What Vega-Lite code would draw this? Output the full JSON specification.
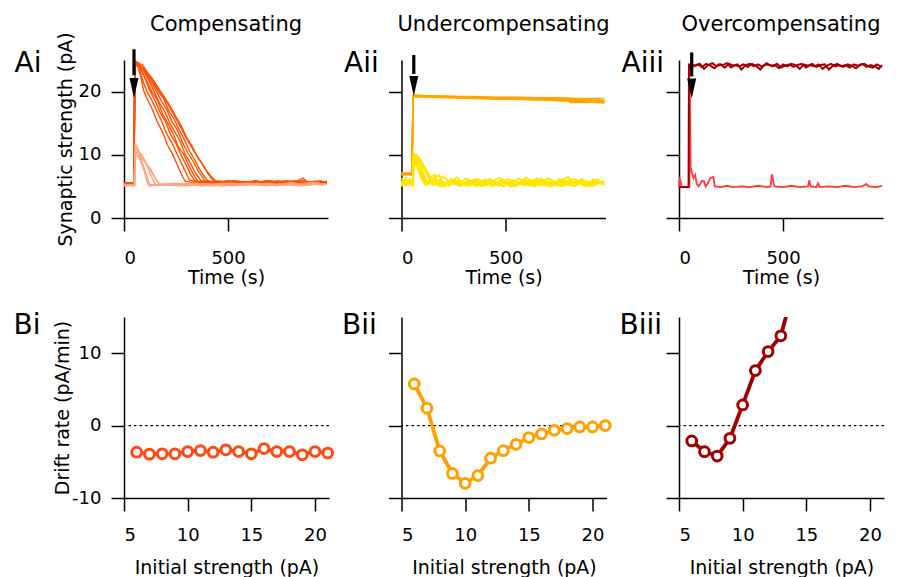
{
"$schema":"https://vega.github.io/schema/vega-lite/v6.json",
"background":"white",
"padding":{"left":13,"top":13,"right":5,"bottom":2},
"config":{"view":{"stroke":null},"font":"DejaVu Sans",
"axis":{"grid":false,"domainColor":"#000","domainWidth":1.5,"tickColor":"#000","tickWidth":1.5,"tickSize":13,"labelFont":"DejaVu Sans","labelFontSize":18,"labelColor":"#000","titleFont":"DejaVu Sans","titleFontSize":19,"titleFontWeight":"normal","titleColor":"#000","labelPadding":10},
"axisY":{"labelPadding":10,"titlePadding":3},
"title":{"font":"DejaVu Sans","fontWeight":"normal","color":"#000"}},
"datasets":{
"aiD":[
{"k":1,"t":0,"v":5.5},{"k":1,"t":48,"v":5.6},{"k":1,"t":52,"v":24.8},{"k":1,"t":65,"v":24.2},{"k":1,"t":80,"v":22.4},{"k":1,"t":95,"v":20.1},{"k":1,"t":115,"v":18.6},{"k":1,"t":135,"v":17.3},{"k":1,"t":160,"v":15.2},{"k":1,"t":185,"v":13.6},{"k":1,"t":210,"v":11.5},{"k":1,"t":235,"v":10.0},{"k":1,"t":260,"v":8.1},{"k":1,"t":280,"v":6.6},{"k":1,"t":295,"v":5.8},{"k":1,"t":340,"v":5.6},{"k":1,"t":400,"v":5.9},{"k":1,"t":470,"v":5.5},{"k":1,"t":540,"v":5.8},{"k":1,"t":610,"v":5.4},{"k":1,"t":680,"v":5.7},{"k":1,"t":750,"v":5.5},{"k":1,"t":820,"v":5.9},{"k":1,"t":890,"v":5.4},{"k":1,"t":960,"v":5.8},
{"k":2,"t":0,"v":5.6},{"k":2,"t":48,"v":5.5},{"k":2,"t":52,"v":24.6},{"k":2,"t":70,"v":23.9},{"k":2,"t":90,"v":21.8},{"k":2,"t":110,"v":20.0},{"k":2,"t":130,"v":18.9},{"k":2,"t":155,"v":17.1},{"k":2,"t":180,"v":15.4},{"k":2,"t":205,"v":13.3},{"k":2,"t":230,"v":11.9},{"k":2,"t":255,"v":10.1},{"k":2,"t":280,"v":8.4},{"k":2,"t":300,"v":7.0},{"k":2,"t":315,"v":6.0},{"k":2,"t":360,"v":5.7},{"k":2,"t":430,"v":5.5},{"k":2,"t":500,"v":5.9},{"k":2,"t":570,"v":5.5},{"k":2,"t":640,"v":5.8},{"k":2,"t":710,"v":5.4},{"k":2,"t":780,"v":5.7},{"k":2,"t":850,"v":5.5},{"k":2,"t":920,"v":5.8},{"k":2,"t":975,"v":5.6},
{"k":3,"t":0,"v":5.5},{"k":3,"t":48,"v":5.6},{"k":3,"t":52,"v":24.9},{"k":3,"t":70,"v":24.5},{"k":3,"t":95,"v":22.6},{"k":3,"t":125,"v":20.1},{"k":3,"t":150,"v":18.5},{"k":3,"t":175,"v":16.6},{"k":3,"t":200,"v":15.2},{"k":3,"t":225,"v":13.1},{"k":3,"t":250,"v":11.8},{"k":3,"t":275,"v":9.9},{"k":3,"t":300,"v":8.3},{"k":3,"t":320,"v":6.9},{"k":3,"t":340,"v":5.9},{"k":3,"t":390,"v":5.6},{"k":3,"t":460,"v":5.8},{"k":3,"t":530,"v":5.4},{"k":3,"t":600,"v":5.7},{"k":3,"t":670,"v":5.5},{"k":3,"t":740,"v":5.9},{"k":3,"t":810,"v":5.5},{"k":3,"t":860,"v":6.3},{"k":3,"t":880,"v":5.7},{"k":3,"t":950,"v":5.4},
{"k":4,"t":0,"v":5.6},{"k":4,"t":48,"v":5.5},{"k":4,"t":52,"v":24.3},{"k":4,"t":75,"v":23.8},{"k":4,"t":105,"v":22.0},{"k":4,"t":135,"v":19.9},{"k":4,"t":160,"v":18.7},{"k":4,"t":185,"v":16.5},{"k":4,"t":210,"v":15.0},{"k":4,"t":235,"v":13.4},{"k":4,"t":260,"v":11.3},{"k":4,"t":285,"v":10.2},{"k":4,"t":310,"v":8.4},{"k":4,"t":335,"v":6.8},{"k":4,"t":355,"v":5.8},{"k":4,"t":410,"v":5.7},{"k":4,"t":480,"v":5.5},{"k":4,"t":550,"v":5.8},{"k":4,"t":620,"v":5.6},{"k":4,"t":690,"v":5.9},{"k":4,"t":760,"v":5.4},{"k":4,"t":830,"v":5.7},{"k":4,"t":900,"v":5.5},{"k":4,"t":975,"v":5.8},
{"k":5,"t":0,"v":5.5},{"k":5,"t":48,"v":5.6},{"k":5,"t":52,"v":24.7},{"k":5,"t":80,"v":24.1},{"k":5,"t":110,"v":22.4},{"k":5,"t":145,"v":20.0},{"k":5,"t":170,"v":18.2},{"k":5,"t":195,"v":16.9},{"k":5,"t":220,"v":15.0},{"k":5,"t":245,"v":13.6},{"k":5,"t":270,"v":12.1},{"k":5,"t":295,"v":10.0},{"k":5,"t":320,"v":8.6},{"k":5,"t":345,"v":7.0},{"k":5,"t":370,"v":5.9},{"k":5,"t":420,"v":5.6},{"k":5,"t":490,"v":5.8},{"k":5,"t":560,"v":5.5},{"k":5,"t":630,"v":5.9},{"k":5,"t":700,"v":5.5},{"k":5,"t":770,"v":5.7},{"k":5,"t":840,"v":5.4},{"k":5,"t":910,"v":5.8},{"k":5,"t":970,"v":5.5},
{"k":6,"t":0,"v":5.6},{"k":6,"t":48,"v":5.5},{"k":6,"t":52,"v":24.5},{"k":6,"t":85,"v":23.9},{"k":6,"t":120,"v":22.1},{"k":6,"t":155,"v":20.1},{"k":6,"t":180,"v":18.5},{"k":6,"t":205,"v":17.2},{"k":6,"t":230,"v":15.3},{"k":6,"t":255,"v":14.0},{"k":6,"t":280,"v":12.0},{"k":6,"t":305,"v":10.4},{"k":6,"t":330,"v":9.1},{"k":6,"t":355,"v":7.5},{"k":6,"t":375,"v":6.6},{"k":6,"t":390,"v":5.8},{"k":6,"t":440,"v":5.6},{"k":6,"t":510,"v":5.5},{"k":6,"t":580,"v":5.8},{"k":6,"t":650,"v":5.4},{"k":6,"t":720,"v":5.7},{"k":6,"t":790,"v":5.6},{"k":6,"t":860,"v":5.9},{"k":6,"t":930,"v":5.5},
{"k":7,"t":0,"v":5.5},{"k":7,"t":48,"v":5.6},{"k":7,"t":52,"v":24.8},{"k":7,"t":90,"v":24.2},{"k":7,"t":130,"v":22.0},{"k":7,"t":165,"v":20.0},{"k":7,"t":190,"v":18.9},{"k":7,"t":215,"v":17.0},{"k":7,"t":240,"v":15.7},{"k":7,"t":265,"v":13.9},{"k":7,"t":290,"v":12.4},{"k":7,"t":315,"v":10.6},{"k":7,"t":340,"v":9.2},{"k":7,"t":365,"v":7.6},{"k":7,"t":390,"v":6.4},{"k":7,"t":405,"v":5.8},{"k":7,"t":460,"v":5.6},{"k":7,"t":530,"v":5.9},{"k":7,"t":600,"v":5.5},{"k":7,"t":670,"v":5.7},{"k":7,"t":740,"v":5.4},{"k":7,"t":810,"v":5.8},{"k":7,"t":880,"v":5.6},{"k":7,"t":950,"v":5.9},
{"k":8,"t":0,"v":5.6},{"k":8,"t":48,"v":5.5},{"k":8,"t":52,"v":24.4},{"k":8,"t":95,"v":23.7},{"k":8,"t":140,"v":21.9},{"k":8,"t":176,"v":20.0},{"k":8,"t":200,"v":18.8},{"k":8,"t":225,"v":17.5},{"k":8,"t":250,"v":16.0},{"k":8,"t":275,"v":14.6},{"k":8,"t":300,"v":12.8},{"k":8,"t":325,"v":11.5},{"k":8,"t":350,"v":9.8},{"k":8,"t":375,"v":8.6},{"k":8,"t":400,"v":7.2},{"k":8,"t":420,"v":6.3},{"k":8,"t":435,"v":5.8},{"k":8,"t":490,"v":5.5},{"k":8,"t":560,"v":5.8},{"k":8,"t":630,"v":5.6},{"k":8,"t":700,"v":5.9},{"k":8,"t":770,"v":5.5},{"k":8,"t":840,"v":5.7},{"k":8,"t":910,"v":5.4},{"k":8,"t":975,"v":5.7},
{"k":9,"t":0,"v":5.5},{"k":9,"t":48,"v":5.6},{"k":9,"t":52,"v":24.6},{"k":9,"t":80,"v":24.0},{"k":9,"t":120,"v":22.5},{"k":9,"t":160,"v":20.6},{"k":9,"t":185,"v":19.4},{"k":9,"t":210,"v":18.1},{"k":9,"t":240,"v":16.3},{"k":9,"t":270,"v":14.5},{"k":9,"t":300,"v":12.6},{"k":9,"t":330,"v":10.9},{"k":9,"t":360,"v":9.4},{"k":9,"t":390,"v":7.8},{"k":9,"t":415,"v":6.7},{"k":9,"t":440,"v":5.9},{"k":9,"t":500,"v":5.7},{"k":9,"t":570,"v":5.5},{"k":9,"t":640,"v":5.8},{"k":9,"t":710,"v":5.5},{"k":9,"t":780,"v":5.9},{"k":9,"t":850,"v":5.6},{"k":9,"t":920,"v":5.8},{"k":9,"t":975,"v":5.5}
],
"aiL":[
{"k":1,"t":0,"v":5.2},{"k":1,"t":50,"v":5.2},{"k":1,"t":53,"v":11.7},{"k":1,"t":60,"v":11.5},{"k":1,"t":75,"v":10.2},{"k":1,"t":90,"v":8.6},{"k":1,"t":105,"v":7.0},{"k":1,"t":118,"v":5.6},{"k":1,"t":125,"v":5.1},{"k":1,"t":190,"v":5.3},{"k":1,"t":260,"v":5.1},{"k":1,"t":330,"v":5.4},{"k":1,"t":400,"v":5.2},{"k":1,"t":470,"v":5.5},{"k":1,"t":540,"v":5.2},{"k":1,"t":610,"v":5.4},{"k":1,"t":680,"v":5.1},{"k":1,"t":750,"v":5.4},{"k":1,"t":820,"v":5.2},{"k":1,"t":890,"v":5.5},{"k":1,"t":960,"v":5.2},
{"k":2,"t":0,"v":5.1},{"k":2,"t":50,"v":5.3},{"k":2,"t":53,"v":10.6},{"k":2,"t":65,"v":10.9},{"k":2,"t":85,"v":9.6},{"k":2,"t":105,"v":8.7},{"k":2,"t":125,"v":7.1},{"k":2,"t":140,"v":6.0},{"k":2,"t":152,"v":5.2},{"k":2,"t":220,"v":5.4},{"k":2,"t":290,"v":5.1},{"k":2,"t":360,"v":5.3},{"k":2,"t":430,"v":5.1},{"k":2,"t":500,"v":5.4},{"k":2,"t":570,"v":5.2},{"k":2,"t":640,"v":5.5},{"k":2,"t":710,"v":5.2},{"k":2,"t":780,"v":5.3},{"k":2,"t":850,"v":5.1},{"k":2,"t":920,"v":5.4},{"k":2,"t":975,"v":5.3},
{"k":3,"t":0,"v":5.3},{"k":3,"t":50,"v":5.2},{"k":3,"t":53,"v":10.0},{"k":3,"t":62,"v":10.3},{"k":3,"t":80,"v":9.0},{"k":3,"t":98,"v":7.5},{"k":3,"t":112,"v":6.2},{"k":3,"t":122,"v":5.3},{"k":3,"t":180,"v":5.2},{"k":3,"t":250,"v":5.5},{"k":3,"t":320,"v":5.2},{"k":3,"t":390,"v":5.4},{"k":3,"t":460,"v":5.1},{"k":3,"t":530,"v":5.3},{"k":3,"t":600,"v":5.5},{"k":3,"t":670,"v":5.2},{"k":3,"t":740,"v":5.3},{"k":3,"t":810,"v":5.6},{"k":3,"t":880,"v":5.2},{"k":3,"t":950,"v":5.4},
{"k":4,"t":0,"v":5.2},{"k":4,"t":50,"v":5.1},{"k":4,"t":53,"v":9.6},{"k":4,"t":70,"v":9.9},{"k":4,"t":95,"v":9.2},{"k":4,"t":120,"v":8.0},{"k":4,"t":145,"v":6.6},{"k":4,"t":165,"v":5.6},{"k":4,"t":176,"v":5.2},{"k":4,"t":240,"v":5.3},{"k":4,"t":310,"v":5.5},{"k":4,"t":380,"v":5.2},{"k":4,"t":450,"v":5.4},{"k":4,"t":520,"v":5.1},{"k":4,"t":590,"v":5.3},{"k":4,"t":660,"v":5.4},{"k":4,"t":730,"v":5.1},{"k":4,"t":800,"v":5.5},{"k":4,"t":870,"v":5.3},{"k":4,"t":940,"v":5.6},
{"k":5,"t":0,"v":5.2},{"k":5,"t":50,"v":5.3},{"k":5,"t":53,"v":11.0},{"k":5,"t":64,"v":11.2},{"k":5,"t":78,"v":9.8},{"k":5,"t":92,"v":8.1},{"k":5,"t":104,"v":6.6},{"k":5,"t":114,"v":5.5},{"k":5,"t":120,"v":5.1},{"k":5,"t":200,"v":5.4},{"k":5,"t":270,"v":5.2},{"k":5,"t":340,"v":5.5},{"k":5,"t":410,"v":5.3},{"k":5,"t":480,"v":5.1},{"k":5,"t":550,"v":5.4},{"k":5,"t":620,"v":5.2},{"k":5,"t":690,"v":5.5},{"k":5,"t":760,"v":5.2},{"k":5,"t":830,"v":5.4},{"k":5,"t":900,"v":5.6},{"k":5,"t":975,"v":5.3},
{"k":6,"t":0,"v":5.1},{"k":6,"t":50,"v":5.2},{"k":6,"t":53,"v":10.3},{"k":6,"t":68,"v":10.5},{"k":6,"t":88,"v":9.9},{"k":6,"t":110,"v":8.4},{"k":6,"t":130,"v":7.6},{"k":6,"t":150,"v":6.3},{"k":6,"t":168,"v":5.4},{"k":6,"t":230,"v":5.2},{"k":6,"t":300,"v":5.4},{"k":6,"t":370,"v":5.1},{"k":6,"t":440,"v":5.3},{"k":6,"t":510,"v":5.5},{"k":6,"t":580,"v":5.2},{"k":6,"t":650,"v":5.4},{"k":6,"t":720,"v":5.2},{"k":6,"t":790,"v":5.5},{"k":6,"t":860,"v":5.3},{"k":6,"t":930,"v":5.5}
],
"aiiO":[
{"k":1,"t":0,"v":7.0},{"k":1,"t":50,"v":7.1},{"k":1,"t":56,"v":19.4},{"k":1,"t":150,"v":19.3},{"k":1,"t":250,"v":19.2},{"k":1,"t":350,"v":19.2},{"k":1,"t":450,"v":19.1},{"k":1,"t":550,"v":19.1},{"k":1,"t":650,"v":19.0},{"k":1,"t":750,"v":19.0},{"k":1,"t":850,"v":18.9},{"k":1,"t":975,"v":18.9},
{"k":2,"t":0,"v":6.8},{"k":2,"t":50,"v":6.9},{"k":2,"t":56,"v":19.3},{"k":2,"t":150,"v":19.2},{"k":2,"t":250,"v":19.1},{"k":2,"t":350,"v":19.0},{"k":2,"t":450,"v":19.0},{"k":2,"t":550,"v":18.9},{"k":2,"t":650,"v":18.8},{"k":2,"t":750,"v":18.8},{"k":2,"t":850,"v":18.7},{"k":2,"t":975,"v":18.6},
{"k":3,"t":0,"v":7.2},{"k":3,"t":50,"v":7.0},{"k":3,"t":56,"v":19.2},{"k":3,"t":150,"v":19.1},{"k":3,"t":250,"v":19.0},{"k":3,"t":350,"v":18.9},{"k":3,"t":450,"v":18.8},{"k":3,"t":550,"v":18.8},{"k":3,"t":650,"v":18.7},{"k":3,"t":750,"v":18.6},{"k":3,"t":850,"v":18.5},{"k":3,"t":975,"v":18.4},
{"k":4,"t":0,"v":6.9},{"k":4,"t":50,"v":7.2},{"k":4,"t":56,"v":19.4},{"k":4,"t":150,"v":19.2},{"k":4,"t":250,"v":19.1},{"k":4,"t":350,"v":19.1},{"k":4,"t":450,"v":19.0},{"k":4,"t":550,"v":18.9},{"k":4,"t":650,"v":18.9},{"k":4,"t":750,"v":18.8},{"k":4,"t":800,"v":18.7},{"k":4,"t":810,"v":18.3},{"k":4,"t":900,"v":18.3},{"k":4,"t":910,"v":18.7},{"k":4,"t":975,"v":18.6},
{"k":5,"t":0,"v":7.1},{"k":5,"t":50,"v":6.8},{"k":5,"t":56,"v":19.3},{"k":5,"t":150,"v":19.2},{"k":5,"t":250,"v":19.2},{"k":5,"t":350,"v":19.1},{"k":5,"t":450,"v":19.0},{"k":5,"t":550,"v":19.0},{"k":5,"t":650,"v":18.9},{"k":5,"t":750,"v":18.8},{"k":5,"t":850,"v":18.7},{"k":5,"t":975,"v":18.3},
{"k":6,"t":0,"v":7.0},{"k":6,"t":50,"v":7.0},{"k":6,"t":56,"v":19.4},{"k":6,"t":150,"v":19.3},{"k":6,"t":250,"v":19.2},{"k":6,"t":350,"v":19.0},{"k":6,"t":450,"v":18.9},{"k":6,"t":550,"v":18.8},{"k":6,"t":650,"v":18.7},{"k":6,"t":750,"v":18.6},{"k":6,"t":850,"v":18.5},{"k":6,"t":975,"v":18.2}
],
"aiiY":[
{"k":1,"t":0,"v":5.3},{"k":1,"t":20,"v":6.0},{"k":1,"t":40,"v":5.4},{"k":1,"t":55,"v":5.6},{"k":1,"t":58,"v":10.2},{"k":1,"t":70,"v":9.9},{"k":1,"t":90,"v":8.3},{"k":1,"t":110,"v":6.6},{"k":1,"t":125,"v":5.4},{"k":1,"t":160,"v":5.9},{"k":1,"t":200,"v":5.1},{"k":1,"t":240,"v":6.2},{"k":1,"t":280,"v":5.3},{"k":1,"t":320,"v":5.8},{"k":1,"t":360,"v":5.0},{"k":1,"t":400,"v":6.1},{"k":1,"t":440,"v":5.4},{"k":1,"t":480,"v":5.9},{"k":1,"t":520,"v":5.1},{"k":1,"t":560,"v":6.3},{"k":1,"t":600,"v":5.5},{"k":1,"t":640,"v":5.0},{"k":1,"t":680,"v":6.0},{"k":1,"t":720,"v":5.3},{"k":1,"t":760,"v":6.2},{"k":1,"t":800,"v":5.2},{"k":1,"t":840,"v":5.8},{"k":1,"t":880,"v":5.0},{"k":1,"t":920,"v":6.1},{"k":1,"t":960,"v":5.4},
{"k":2,"t":0,"v":5.8},{"k":2,"t":20,"v":5.1},{"k":2,"t":40,"v":6.2},{"k":2,"t":55,"v":5.5},{"k":2,"t":58,"v":9.4},{"k":2,"t":75,"v":9.6},{"k":2,"t":95,"v":8.8},{"k":2,"t":115,"v":7.4},{"k":2,"t":135,"v":6.0},{"k":2,"t":150,"v":5.2},{"k":2,"t":185,"v":6.0},{"k":2,"t":225,"v":5.3},{"k":2,"t":265,"v":6.4},{"k":2,"t":305,"v":5.2},{"k":2,"t":345,"v":5.9},{"k":2,"t":385,"v":5.4},{"k":2,"t":425,"v":6.2},{"k":2,"t":465,"v":5.1},{"k":2,"t":505,"v":5.7},{"k":2,"t":545,"v":5.0},{"k":2,"t":585,"v":6.1},{"k":2,"t":625,"v":5.6},{"k":2,"t":665,"v":5.2},{"k":2,"t":705,"v":6.3},{"k":2,"t":745,"v":5.4},{"k":2,"t":785,"v":5.9},{"k":2,"t":825,"v":5.1},{"k":2,"t":865,"v":6.2},{"k":2,"t":905,"v":5.3},{"k":2,"t":945,"v":5.8},{"k":2,"t":975,"v":5.2},
{"k":3,"t":0,"v":5.0},{"k":3,"t":20,"v":5.7},{"k":3,"t":40,"v":5.2},{"k":3,"t":55,"v":5.9},{"k":3,"t":58,"v":8.8},{"k":3,"t":68,"v":9.1},{"k":3,"t":85,"v":8.0},{"k":3,"t":100,"v":6.5},{"k":3,"t":115,"v":5.2},{"k":3,"t":150,"v":5.6},{"k":3,"t":190,"v":5.0},{"k":3,"t":230,"v":5.8},{"k":3,"t":270,"v":5.2},{"k":3,"t":310,"v":6.3},{"k":3,"t":350,"v":5.4},{"k":3,"t":390,"v":5.0},{"k":3,"t":430,"v":5.7},{"k":3,"t":470,"v":6.4},{"k":3,"t":510,"v":5.3},{"k":3,"t":550,"v":5.8},{"k":3,"t":590,"v":5.1},{"k":3,"t":630,"v":6.0},{"k":3,"t":670,"v":5.5},{"k":3,"t":710,"v":5.0},{"k":3,"t":750,"v":5.9},{"k":3,"t":790,"v":5.4},{"k":3,"t":830,"v":6.2},{"k":3,"t":870,"v":5.3},{"k":3,"t":910,"v":5.0},{"k":3,"t":950,"v":5.9},
{"k":4,"t":0,"v":6.3},{"k":4,"t":20,"v":5.5},{"k":4,"t":40,"v":5.9},{"k":4,"t":55,"v":5.3},{"k":4,"t":58,"v":9.8},{"k":4,"t":72,"v":10.0},{"k":4,"t":92,"v":9.2},{"k":4,"t":112,"v":8.0},{"k":4,"t":130,"v":7.0},{"k":4,"t":145,"v":5.8},{"k":4,"t":160,"v":5.3},{"k":4,"t":200,"v":6.6},{"k":4,"t":240,"v":5.4},{"k":4,"t":280,"v":5.9},{"k":4,"t":320,"v":5.1},{"k":4,"t":360,"v":6.2},{"k":4,"t":400,"v":5.6},{"k":4,"t":440,"v":5.0},{"k":4,"t":480,"v":6.0},{"k":4,"t":520,"v":5.5},{"k":4,"t":560,"v":5.2},{"k":4,"t":600,"v":6.4},{"k":4,"t":640,"v":5.3},{"k":4,"t":680,"v":5.7},{"k":4,"t":720,"v":5.0},{"k":4,"t":760,"v":5.8},{"k":4,"t":800,"v":6.5},{"k":4,"t":840,"v":5.2},{"k":4,"t":880,"v":5.7},{"k":4,"t":920,"v":5.1},{"k":4,"t":975,"v":5.9},
{"k":5,"t":0,"v":5.5},{"k":5,"t":20,"v":5.2},{"k":5,"t":40,"v":5.8},{"k":5,"t":55,"v":5.1},{"k":5,"t":58,"v":9.0},{"k":5,"t":70,"v":9.3},{"k":5,"t":90,"v":7.9},{"k":5,"t":108,"v":6.3},{"k":5,"t":120,"v":5.5},{"k":5,"t":165,"v":6.1},{"k":5,"t":205,"v":5.2},{"k":5,"t":245,"v":5.7},{"k":5,"t":285,"v":5.0},{"k":5,"t":325,"v":6.0},{"k":5,"t":365,"v":5.3},{"k":5,"t":405,"v":5.8},{"k":5,"t":445,"v":5.2},{"k":5,"t":485,"v":6.2},{"k":5,"t":525,"v":5.0},{"k":5,"t":565,"v":5.6},{"k":5,"t":605,"v":5.3},{"k":5,"t":645,"v":6.1},{"k":5,"t":685,"v":5.1},{"k":5,"t":725,"v":5.6},{"k":5,"t":765,"v":5.2},{"k":5,"t":805,"v":6.0},{"k":5,"t":845,"v":5.4},{"k":5,"t":885,"v":5.9},{"k":5,"t":925,"v":5.2},{"k":5,"t":965,"v":5.7},
{"k":6,"t":0,"v":5.1},{"k":6,"t":20,"v":6.4},{"k":6,"t":40,"v":5.6},{"k":6,"t":55,"v":5.4},{"k":6,"t":58,"v":8.5},{"k":6,"t":66,"v":8.7},{"k":6,"t":80,"v":7.6},{"k":6,"t":96,"v":6.2},{"k":6,"t":110,"v":5.5},{"k":6,"t":140,"v":6.0},{"k":6,"t":180,"v":6.8},{"k":6,"t":200,"v":5.6},{"k":6,"t":230,"v":5.1},{"k":6,"t":270,"v":5.9},{"k":6,"t":310,"v":5.4},{"k":6,"t":350,"v":6.1},{"k":6,"t":390,"v":5.2},{"k":6,"t":430,"v":5.9},{"k":6,"t":470,"v":5.4},{"k":6,"t":510,"v":6.2},{"k":6,"t":550,"v":5.1},{"k":6,"t":590,"v":5.7},{"k":6,"t":630,"v":5.3},{"k":6,"t":670,"v":6.2},{"k":6,"t":710,"v":5.7},{"k":6,"t":750,"v":5.1},{"k":6,"t":790,"v":5.6},{"k":6,"t":830,"v":5.0},{"k":6,"t":870,"v":6.0},{"k":6,"t":910,"v":5.5},{"k":6,"t":950,"v":6.2},
{"k":7,"t":0,"v":5.9},{"k":7,"t":20,"v":5.4},{"k":7,"t":40,"v":6.1},{"k":7,"t":55,"v":5.7},{"k":7,"t":58,"v":9.6},{"k":7,"t":74,"v":9.8},{"k":7,"t":96,"v":8.4},{"k":7,"t":120,"v":7.1},{"k":7,"t":140,"v":6.5},{"k":7,"t":160,"v":6.8},{"k":7,"t":175,"v":5.6},{"k":7,"t":210,"v":5.0},{"k":7,"t":250,"v":6.0},{"k":7,"t":290,"v":5.6},{"k":7,"t":330,"v":5.1},{"k":7,"t":370,"v":6.1},{"k":7,"t":410,"v":5.2},{"k":7,"t":450,"v":5.7},{"k":7,"t":490,"v":5.0},{"k":7,"t":530,"v":6.0},{"k":7,"t":570,"v":5.5},{"k":7,"t":610,"v":5.1},{"k":7,"t":650,"v":6.3},{"k":7,"t":690,"v":5.4},{"k":7,"t":730,"v":5.8},{"k":7,"t":770,"v":5.0},{"k":7,"t":810,"v":5.6},{"k":7,"t":850,"v":5.9},{"k":7,"t":890,"v":5.2},{"k":7,"t":930,"v":6.0},{"k":7,"t":975,"v":5.5}
],
"aiiiD":[
{"k":1,"t":0,"v":4.9},{"k":1,"t":46,"v":4.9},{"k":1,"t":48,"v":24.3},{"k":1,"t":60,"v":24.3},{"k":1,"t":80,"v":24.1},{"k":1,"t":100,"v":24.4},{"k":1,"t":120,"v":23.6},{"k":1,"t":140,"v":24.2},{"k":1,"t":160,"v":24.5},{"k":1,"t":180,"v":24.0},{"k":1,"t":200,"v":24.3},{"k":1,"t":220,"v":23.8},{"k":1,"t":240,"v":24.4},{"k":1,"t":260,"v":24.1},{"k":1,"t":280,"v":24.3},{"k":1,"t":300,"v":23.5},{"k":1,"t":320,"v":24.2},{"k":1,"t":340,"v":24.4},{"k":1,"t":360,"v":24.0},{"k":1,"t":380,"v":24.3},{"k":1,"t":400,"v":23.9},{"k":1,"t":420,"v":24.5},{"k":1,"t":440,"v":24.1},{"k":1,"t":460,"v":24.2},{"k":1,"t":480,"v":23.7},{"k":1,"t":500,"v":24.3},{"k":1,"t":520,"v":24.0},{"k":1,"t":540,"v":24.4},{"k":1,"t":560,"v":24.2},{"k":1,"t":580,"v":23.6},{"k":1,"t":600,"v":24.3},{"k":1,"t":620,"v":24.1},{"k":1,"t":640,"v":24.4},{"k":1,"t":660,"v":23.9},{"k":1,"t":680,"v":24.2},{"k":1,"t":700,"v":24.3},{"k":1,"t":720,"v":23.5},{"k":1,"t":740,"v":24.1},{"k":1,"t":760,"v":24.4},{"k":1,"t":780,"v":24.0},{"k":1,"t":800,"v":24.2},{"k":1,"t":820,"v":23.8},{"k":1,"t":840,"v":24.3},{"k":1,"t":860,"v":24.1},{"k":1,"t":880,"v":24.4},{"k":1,"t":900,"v":23.9},{"k":1,"t":920,"v":24.2},{"k":1,"t":940,"v":24.0},{"k":1,"t":960,"v":23.6},{"k":1,"t":975,"v":24.2},
{"k":2,"t":48,"v":24.1},{"k":2,"t":70,"v":24.0},{"k":2,"t":90,"v":24.3},{"k":2,"t":110,"v":23.9},{"k":2,"t":130,"v":24.4},{"k":2,"t":150,"v":24.1},{"k":2,"t":170,"v":23.7},{"k":2,"t":190,"v":24.3},{"k":2,"t":210,"v":24.2},{"k":2,"t":230,"v":24.5},{"k":2,"t":250,"v":23.8},{"k":2,"t":270,"v":24.2},{"k":2,"t":290,"v":24.0},{"k":2,"t":310,"v":24.3},{"k":2,"t":330,"v":23.9},{"k":2,"t":350,"v":24.4},{"k":2,"t":370,"v":24.1},{"k":2,"t":390,"v":23.5},{"k":2,"t":410,"v":24.2},{"k":2,"t":430,"v":24.3},{"k":2,"t":450,"v":24.0},{"k":2,"t":470,"v":24.4},{"k":2,"t":490,"v":23.8},{"k":2,"t":510,"v":24.1},{"k":2,"t":530,"v":24.3},{"k":2,"t":550,"v":23.9},{"k":2,"t":570,"v":24.2},{"k":2,"t":590,"v":24.4},{"k":2,"t":610,"v":23.8},{"k":2,"t":630,"v":24.2},{"k":2,"t":650,"v":24.0},{"k":2,"t":670,"v":24.3},{"k":2,"t":690,"v":23.6},{"k":2,"t":710,"v":24.1},{"k":2,"t":730,"v":24.4},{"k":2,"t":750,"v":24.0},{"k":2,"t":770,"v":24.2},{"k":2,"t":790,"v":23.9},{"k":2,"t":810,"v":24.3},{"k":2,"t":830,"v":24.1},{"k":2,"t":850,"v":23.7},{"k":2,"t":870,"v":24.2},{"k":2,"t":890,"v":24.4},{"k":2,"t":910,"v":24.0},{"k":2,"t":930,"v":23.8},{"k":2,"t":950,"v":24.3},{"k":2,"t":975,"v":23.9}
],
"aiiiR":[
{"k":1,"t":0,"v":4.9},{"k":1,"t":3,"v":6.2},{"k":1,"t":8,"v":5.9},{"k":1,"t":12,"v":4.9},{"k":1,"t":50,"v":4.9},{"k":1,"t":52,"v":20.0},{"k":1,"t":56,"v":8.0},{"k":1,"t":62,"v":7.2},{"k":1,"t":70,"v":6.3},{"k":1,"t":78,"v":6.8},{"k":1,"t":85,"v":5.4},{"k":1,"t":95,"v":5.0},{"k":1,"t":110,"v":5.9},{"k":1,"t":120,"v":5.8},{"k":1,"t":128,"v":5.0},{"k":1,"t":140,"v":5.6},{"k":1,"t":150,"v":6.3},{"k":1,"t":165,"v":6.5},{"k":1,"t":172,"v":5.0},{"k":1,"t":200,"v":4.9},{"k":1,"t":230,"v":5.1},{"k":1,"t":260,"v":4.9},{"k":1,"t":300,"v":5.0},{"k":1,"t":340,"v":4.9},{"k":1,"t":380,"v":5.1},{"k":1,"t":420,"v":4.9},{"k":1,"t":440,"v":5.0},{"k":1,"t":446,"v":6.9},{"k":1,"t":452,"v":6.0},{"k":1,"t":458,"v":5.0},{"k":1,"t":500,"v":4.9},{"k":1,"t":540,"v":5.1},{"k":1,"t":580,"v":4.9},{"k":1,"t":620,"v":5.0},{"k":1,"t":626,"v":6.0},{"k":1,"t":632,"v":5.0},{"k":1,"t":660,"v":4.9},{"k":1,"t":668,"v":5.5},{"k":1,"t":675,"v":4.9},{"k":1,"t":720,"v":5.0},{"k":1,"t":760,"v":4.9},{"k":1,"t":800,"v":5.1},{"k":1,"t":840,"v":4.9},{"k":1,"t":880,"v":5.0},{"k":1,"t":900,"v":5.4},{"k":1,"t":910,"v":5.0},{"k":1,"t":950,"v":4.9},{"k":1,"t":975,"v":5.1}
],
"bi":[{"x":6,"y":-3.67},{"x":7,"y":-3.94},{"x":8,"y":-3.9},{"x":9,"y":-3.9},{"x":10,"y":-3.58},{"x":11,"y":-3.44},{"x":12,"y":-3.67},{"x":13,"y":-3.35},{"x":14,"y":-3.58},{"x":15,"y":-3.9},{"x":16,"y":-3.17},{"x":17,"y":-3.58},{"x":18,"y":-3.58},{"x":19,"y":-4.04},{"x":20,"y":-3.58},{"x":21,"y":-3.8}],
"bii":[{"x":6,"y":5.76},{"x":7,"y":2.4},{"x":8,"y":-3.5},{"x":9,"y":-6.6},{"x":10,"y":-7.97},{"x":11,"y":-6.9},{"x":12,"y":-4.5},{"x":13,"y":-3.46},{"x":14,"y":-2.58},{"x":15,"y":-1.66},{"x":16,"y":-1.15},{"x":17,"y":-0.65},{"x":18,"y":-0.41},{"x":19,"y":-0.18},{"x":20,"y":-0.18},{"x":21,"y":0}],
"biii":[{"x":6,"y":-2.12},{"x":7,"y":-3.6},{"x":8,"y":-4.2},{"x":9,"y":-1.75},{"x":10,"y":2.86},{"x":11,"y":7.6},{"x":12,"y":10.23},{"x":13,"y":12.4},{"x":14,"y":19.0}]
},
"columns":3,
"spacing":{"row":99,"column":72.5},
"bounds":"flush",
"concat":[
 {"width":204,"height":158,
  "title":{"text":"Compensating","anchor":"middle","frame":"group","fontSize":21,"offset":-20,"baseline":"alphabetic"},
  "resolve":{"axis":{"x":"independent"}},
  "layer":[
   {"data":{"name":"aiD"},"mark":{"type":"line","color":"#FF5000","strokeWidth":1.4},
    "encoding":{"x":{"field":"t","type":"quantitative","scale":{"domain":[0,980],"nice":false},"axis":{"values":[0,500],"title":"Time (s)","labelPadding":18,"titlePadding":1}},
     "y":{"field":"v","type":"quantitative","scale":{"domain":[0,25],"nice":false},"axis":{"values":[0,10,20],"title":"Synaptic strength (pA)"}},
     "detail":{"field":"k"}}},
   {"data":{"name":"aiL"},"mark":{"type":"line","color":"#FFA47C","strokeWidth":1.4},
    "encoding":{"x":{"field":"t","type":"quantitative","axis":null},"y":{"field":"v","type":"quantitative"},"detail":{"field":"k"}}},
   {"data":{"values":[{"t":48,"top":26.7,"base":22.6,"tip":19.0}]},"mark":{"type":"rule","color":"#000","strokeWidth":3.2},
    "encoding":{"x":{"field":"t","type":"quantitative","axis":{"orient":"top","domain":false,"ticks":false,"labels":false,"title":"Ai","titleFontSize":28,"titleX":-110,"titleY":11,"titleAlign":"left","titleBaseline":"alphabetic","titleAngle":0}},"y":{"field":"top","type":"quantitative"},"y2":{"field":"base"}}},
   {"data":{"values":[{"t":48,"top":26.7,"base":22.6,"tip":19.0}]},"mark":{"type":"point","shape":"M -0.45 -2 L 0.45 -2 L 0 0 Z","size":400,"filled":true,"color":"#000","opacity":1,"strokeWidth":0},
    "encoding":{"x":{"field":"t","type":"quantitative","axis":null},"y":{"field":"tip","type":"quantitative"}}}
  ]},
 {"width":204,"height":158,
  "title":{"text":"Undercompensating","anchor":"middle","frame":"group","fontSize":21,"offset":-2.5,"baseline":"alphabetic"},
  "resolve":{"axis":{"x":"independent"}},
  "layer":[
   {"data":{"name":"aiiO"},"mark":{"type":"line","color":"#FFA500","strokeWidth":1.6},
    "encoding":{"x":{"field":"t","type":"quantitative","scale":{"domain":[0,980],"nice":false},"axis":{"values":[0,500],"title":"Time (s)","labelPadding":18,"titlePadding":1}},
     "y":{"field":"v","type":"quantitative","scale":{"domain":[0,25],"nice":false},"axis":{"values":[0,10,20],"labels":false,"title":null}},
     "detail":{"field":"k"}}},
   {"data":{"name":"aiiY"},"mark":{"type":"line","color":"#FFE600","strokeWidth":1.8},
    "encoding":{"x":{"field":"t","type":"quantitative","axis":null},"y":{"field":"v","type":"quantitative"},"detail":{"field":"k"}}},
   {"data":{"values":[{"t":59,"top":25.8,"base":22.8,"tip":19.3}]},"mark":{"type":"rule","color":"#000","strokeWidth":3.2},
    "encoding":{"x":{"field":"t","type":"quantitative","axis":{"orient":"top","domain":false,"ticks":false,"labels":false,"title":"Aii","titleFontSize":28,"titleX":-58,"titleY":11,"titleAlign":"left","titleBaseline":"alphabetic","titleAngle":0}},"y":{"field":"top","type":"quantitative"},"y2":{"field":"base"}}},
   {"data":{"values":[{"t":59,"top":25.8,"base":22.8,"tip":19.3}]},"mark":{"type":"point","shape":"M -0.45 -2 L 0.45 -2 L 0 0 Z","size":400,"filled":true,"color":"#000","opacity":1,"strokeWidth":0},
    "encoding":{"x":{"field":"t","type":"quantitative","axis":null},"y":{"field":"tip","type":"quantitative"}}}
  ]},
 {"width":204,"height":158,
  "title":{"text":"Overcompensating","anchor":"middle","frame":"group","fontSize":21,"offset":-2.5,"baseline":"alphabetic"},
  "resolve":{"axis":{"x":"independent"}},
  "layer":[
   {"data":{"name":"aiiiR"},"mark":{"type":"line","color":"#FF3838","strokeWidth":1.8},
    "encoding":{"x":{"field":"t","type":"quantitative","scale":{"domain":[0,980],"nice":false},"axis":{"values":[0,500],"title":"Time (s)","labelPadding":18,"titlePadding":1}},
     "y":{"field":"v","type":"quantitative","scale":{"domain":[0,25],"nice":false},"axis":{"values":[0,10,20],"labels":false,"title":null}},
     "detail":{"field":"k"}}},
   {"data":{"name":"aiiiD"},"mark":{"type":"line","color":"#A00000","strokeWidth":2},
    "encoding":{"x":{"field":"t","type":"quantitative","axis":null},"y":{"field":"v","type":"quantitative"},"detail":{"field":"k"}}},
   {"data":{"values":[{"t":61,"top":26.2,"base":22.4,"tip":18.9}]},"mark":{"type":"rule","color":"#000","strokeWidth":3.2},
    "encoding":{"x":{"field":"t","type":"quantitative","axis":{"orient":"top","domain":false,"ticks":false,"labels":false,"title":"Aiii","titleFontSize":28,"titleX":-58,"titleY":11,"titleAlign":"left","titleBaseline":"alphabetic","titleAngle":0}},"y":{"field":"top","type":"quantitative"},"y2":{"field":"base"}}},
   {"data":{"values":[{"t":61,"top":26.2,"base":22.4,"tip":18.9}]},"mark":{"type":"point","shape":"M -0.45 -2 L 0.45 -2 L 0 0 Z","size":400,"filled":true,"color":"#000","opacity":1,"strokeWidth":0},
    "encoding":{"x":{"field":"t","type":"quantitative","axis":null},"y":{"field":"tip","type":"quantitative"}}}
  ]},
 {"width":205,"height":181,
  "resolve":{"axis":{"x":"independent"}},
  "layer":[
   {"data":{"values":[{"y":0}]},"mark":{"type":"rule","strokeDash":[2.5,3],"strokeWidth":1.4,"color":"#000"},
    "encoding":{"y":{"field":"y","type":"quantitative","scale":{"domain":[-10,15],"nice":false},"axis":{"values":[-10,0,10],"title":"Drift rate (pA/min)","labelExpr":"'' + datum.value","titlePadding":-1}}}},
   {"data":{"name":"bi"},"mark":{"type":"line","color":"#FF4A12","strokeWidth":3.5},
    "encoding":{"x":{"field":"x","type":"quantitative","scale":{"domain":[5,21.1],"nice":false,"zero":false},"axis":{"values":[5,10,15,20],"title":"Initial strength (pA)","labelPadding":15,"titlePadding":14}},"y":{"field":"y","type":"quantitative"}}},
   {"data":{"name":"bi"},"mark":{"type":"point","filled":true,"fill":"#fff","stroke":"#FF4A12","strokeWidth":3,"size":95,"opacity":1},
    "encoding":{"x":{"field":"x","type":"quantitative","axis":{"orient":"top","domain":false,"ticks":false,"labels":false,"title":"Bi","titleFontSize":28,"titleX":-111,"titleY":16,"titleAlign":"left","titleBaseline":"alphabetic","titleAngle":0}},"y":{"field":"y","type":"quantitative"}}}
  ]},
 {"width":205,"height":181,
  "resolve":{"axis":{"x":"independent"}},
  "layer":[
   {"data":{"values":[{"y":0}]},"mark":{"type":"rule","strokeDash":[2.5,3],"strokeWidth":1.4,"color":"#000"},
    "encoding":{"y":{"field":"y","type":"quantitative","scale":{"domain":[-10,15],"nice":false},"axis":{"values":[-10,0,10],"labels":false,"title":null}}}},
   {"data":{"name":"bii"},"mark":{"type":"line","color":"#FFA000","strokeWidth":3.8},
    "encoding":{"x":{"field":"x","type":"quantitative","scale":{"domain":[5,21.1],"nice":false,"zero":false},"axis":{"values":[5,10,15,20],"title":"Initial strength (pA)","labelPadding":15,"titlePadding":14}},"y":{"field":"y","type":"quantitative"}}},
   {"data":{"name":"bii"},"mark":{"type":"point","filled":true,"fill":"#fff","stroke":"#FFA000","strokeWidth":3,"size":95,"opacity":1},
    "encoding":{"x":{"field":"x","type":"quantitative","axis":{"orient":"top","domain":false,"ticks":false,"labels":false,"title":"Bii","titleFontSize":28,"titleX":-60,"titleY":16,"titleAlign":"left","titleBaseline":"alphabetic","titleAngle":0}},"y":{"field":"y","type":"quantitative"}}}
  ]},
 {"width":205,"height":181,
  "resolve":{"axis":{"x":"independent"}},
  "layer":[
   {"data":{"values":[{"y":0}]},"mark":{"type":"rule","strokeDash":[2.5,3],"strokeWidth":1.4,"color":"#000"},
    "encoding":{"y":{"field":"y","type":"quantitative","scale":{"domain":[-10,15],"nice":false},"axis":{"values":[-10,0,10],"labels":false,"title":null}}}},
   {"data":{"name":"biii"},"mark":{"type":"line","color":"#9E0000","strokeWidth":3.8,"clip":true},
    "encoding":{"x":{"field":"x","type":"quantitative","scale":{"domain":[5,21.1],"nice":false,"zero":false},"axis":{"values":[5,10,15,20],"title":"Initial strength (pA)","labelPadding":15,"titlePadding":14}},"y":{"field":"y","type":"quantitative"}}},
   {"data":{"name":"biii"},"mark":{"type":"point","filled":true,"fill":"#fff","stroke":"#9E0000","strokeWidth":3,"size":95,"opacity":1,"clip":true},
    "encoding":{"x":{"field":"x","type":"quantitative","axis":{"orient":"top","domain":false,"ticks":false,"labels":false,"title":"Biii","titleFontSize":28,"titleX":-60,"titleY":16,"titleAlign":"left","titleBaseline":"alphabetic","titleAngle":0}},"y":{"field":"y","type":"quantitative"}}}
  ]}
]
}
